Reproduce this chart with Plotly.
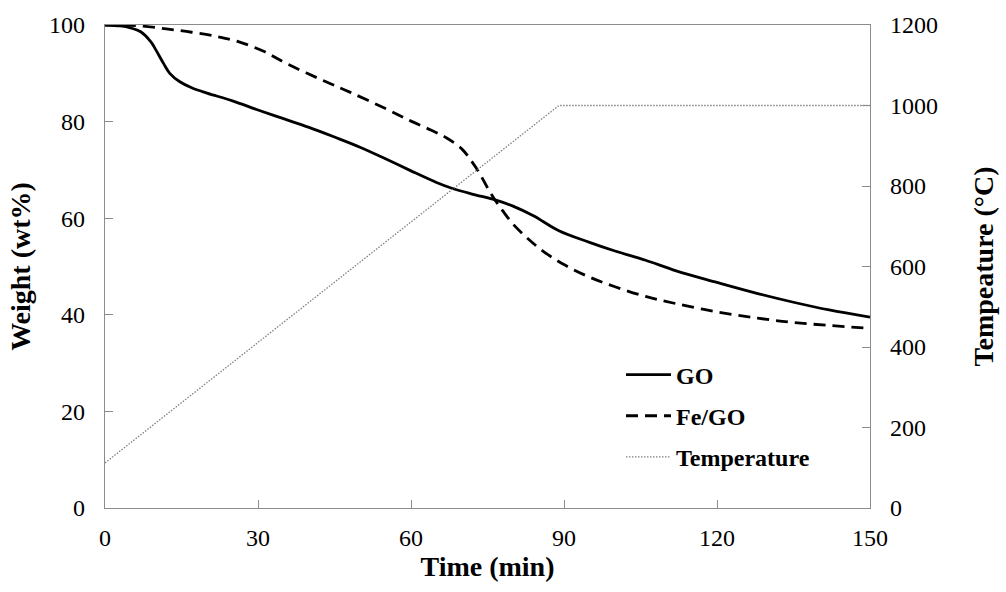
import plotly.graph_objects as go

# Data
go_time = [0, 3, 5, 7, 9, 10, 11.5, 12.7, 14.6, 17, 20, 25, 30, 35, 40, 45, 50, 55, 60, 65, 68, 72, 76.5, 80, 84, 89, 95, 100, 106, 112, 120, 128, 135, 142, 150]
go_weight = [100, 99.8, 99.4, 98.6, 96.5, 94.8, 92, 90, 88.3, 87, 85.9, 84.3, 82.4, 80.6, 78.8, 76.8, 74.7, 72.3, 69.8, 67.4, 66.2, 65, 63.8, 62.5, 60.5, 57.4, 55, 53.2, 51.3, 49.1, 46.7, 44.4, 42.6, 41, 39.5]

fego_time = [0, 4, 7, 12, 17, 22, 26, 31, 36, 43, 48, 55, 60, 64, 67, 70, 72, 73.5, 75, 76.5, 78, 80, 83, 86, 90, 95, 100, 106, 112, 120, 128, 135, 142, 150]
fego_weight = [100, 100, 99.8, 99.2, 98.5, 97.6, 96.6, 94.6, 91.8, 88.4, 86.1, 82.7, 80.1, 78.2, 76.6, 74.3, 71.6, 69.2, 66.3, 63.7, 61.5, 58.8, 55.7, 53.1, 50.4, 47.8, 45.8, 43.8, 42.3, 40.6, 39.3, 38.4, 37.8, 37.2]

temp_time = [0, 89, 150]
temp_c = [112, 1000, 1000]

font_family = "Liberation Serif"

fig = go.Figure()
fig.add_trace(go.Scatter(x=go_time, y=go_weight, mode="lines", name="<b>GO</b>",
                         line=dict(color="black", width=2.8, shape="spline"), legendgroup="a"))
fig.add_trace(go.Scatter(x=fego_time, y=fego_weight, mode="lines", name="<b>Fe/GO</b>",
                         line=dict(color="black", width=2.8, dash="12px,7px", shape="spline"), legendgroup="b"))
fig.add_trace(go.Scatter(x=temp_time, y=temp_c, mode="lines", name="<b>Temperature</b>", yaxis="y2",
                         line=dict(color="#808080", width=1.3, dash="1.5px,1.5px"), legendgroup="c"))

axis_common = dict(showgrid=False, zeroline=False, showline=True, linecolor="#8c8c8c", linewidth=1.3,
                   ticks="inside", ticklen=8, tickcolor="#8c8c8c", tickwidth=1,
                   tickfont=dict(family=font_family, size=24, color="black"))

title_font = dict(size=28, family=font_family, color="black")

fig.update_layout(
    width=1006, height=592,
    margin=dict(l=105, r=133, t=25, b=84),
    paper_bgcolor="white", plot_bgcolor="white",
    font=dict(family=font_family, color="black"),
    xaxis=dict(range=[0, 150], tickvals=[0, 30, 60, 90, 120, 150], mirror=True,
               title=dict(text="<b>Time (min)</b>", font=title_font, standoff=6),
               ticklabelstandoff=8, **axis_common),
    yaxis=dict(range=[0, 100], tickvals=[0, 20, 40, 60, 80, 100],
               title=dict(text="<b>Weight (wt%)</b>", font=title_font, standoff=10),
               ticklabelstandoff=14, **axis_common),
    yaxis2=dict(range=[0, 1200], tickvals=[0, 200, 400, 600, 800, 1000, 1200], overlaying="y", side="right",
                title=dict(text="<b>Tempeature (°C)</b>", font=title_font, standoff=36),
                ticklabelstandoff=14, **axis_common),
    showlegend=True,
    legend=dict(x=0.6745, y=0.322, xanchor="left", yanchor="top", bgcolor="rgba(0,0,0,0)",
                font=dict(family=font_family, size=24, color="black"), itemwidth=45,
                traceorder="grouped", tracegroupgap=7),
)

fig.write_html("out.html")
